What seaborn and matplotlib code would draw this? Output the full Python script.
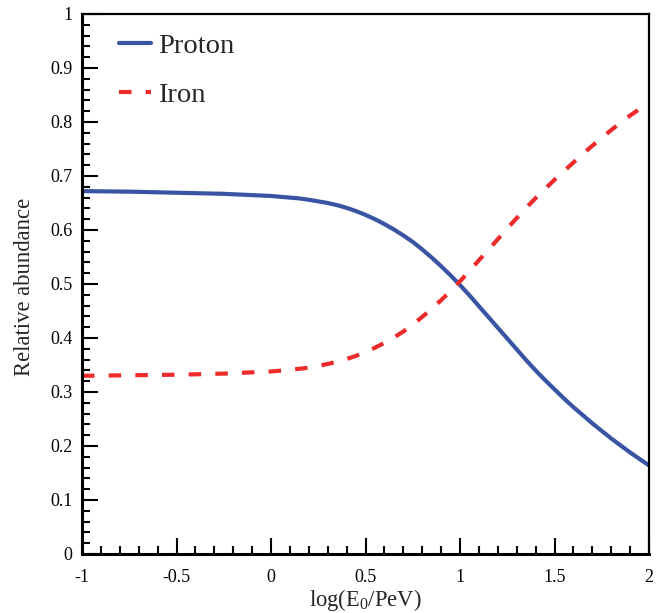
import matplotlib
matplotlib.use("Agg")
import matplotlib.pyplot as plt
import seaborn as sns
import pandas as pd
from matplotlib.ticker import MultipleLocator, FormatStrFormatter

log_e = [-1.0, -0.75, -0.5, -0.25, 0.0,
         0.1, 0.15, 0.2, 0.25, 0.3, 0.35, 0.4, 0.45, 0.5, 0.55,
         0.6, 0.65, 0.7, 0.75, 0.8, 0.85, 0.9, 0.95, 1.0, 1.05,
         1.1, 1.15, 1.2, 1.25, 1.3, 1.35, 1.4, 1.45, 1.5, 1.55,
         1.6, 1.65, 1.7, 1.75, 1.8, 1.85, 1.9, 1.95, 2.0]
proton = [0.672, 0.671, 0.669, 0.667, 0.663,
          0.660, 0.6585, 0.656, 0.653, 0.650, 0.646, 0.641, 0.635, 0.628, 0.620,
          0.611, 0.601, 0.590, 0.578, 0.564, 0.549, 0.533, 0.516, 0.498, 0.479,
          0.459, 0.439, 0.419, 0.399, 0.379, 0.359, 0.340, 0.322, 0.305, 0.288,
          0.272, 0.257, 0.242, 0.228, 0.214, 0.201, 0.188, 0.176, 0.164]
iron = [0.330, 0.331, 0.332, 0.334, 0.338,
        0.341, 0.343, 0.345, 0.348, 0.352, 0.356, 0.361, 0.367, 0.374, 0.382,
        0.391, 0.401, 0.412, 0.425, 0.439, 0.454, 0.470, 0.487, 0.505, 0.524,
        0.544, 0.563, 0.583, 0.603, 0.622, 0.641, 0.659, 0.676, 0.693, 0.709,
        0.725, 0.741, 0.756, 0.771, 0.785, 0.799, 0.812, 0.824, 0.836]
series_names = ["Proton", "Iron"]
x_label = "log(E$_0$/PeV)"
y_label = "Relative abundance"

df = pd.concat([
    pd.DataFrame({"x": log_e, "y": proton, "species": series_names[0]}),
    pd.DataFrame({"x": log_e, "y": iron, "species": series_names[1]}),
])

sns.set_style("ticks")
plt.rcParams["font.family"] = ["Liberation Serif", "DejaVu Serif"]
plt.rcParams["mathtext.fontset"] = "custom"
plt.rcParams["mathtext.rm"] = "Liberation Serif"
plt.rcParams["mathtext.it"] = "Liberation Serif:italic"
plt.rcParams["axes.unicode_minus"] = False

fig = plt.figure(figsize=(6.67, 6.13), dpi=100)
ax = fig.add_axes([82 / 667, 59 / 613, 567 / 667, 540 / 613])

colors = {"Proton": "#3a54a4", "Iron": "#ee2a2a"}
sns.lineplot(data=df, x="x", y="y", hue="species", style="species",
             palette=colors, dashes={"Proton": "", "Iron": (3, 3.4)},
             linewidth=3, ax=ax, sort=False)

ax.set_xlim(-1, 2)
ax.set_ylim(0, 1)
ax.xaxis.set_major_locator(MultipleLocator(0.5))
ax.xaxis.set_minor_locator(MultipleLocator(0.1))
ax.yaxis.set_major_locator(MultipleLocator(0.1))
ax.yaxis.set_minor_locator(MultipleLocator(0.02))
ax.xaxis.set_major_formatter(FormatStrFormatter("%g"))
ax.yaxis.set_major_formatter(FormatStrFormatter("%g"))

ax.tick_params(axis="both", which="both", bottom=True, left=True,
               top=False, right=False, direction="in", color="black")
ax.tick_params(axis="both", which="major", length=11.5, width=1.5,
               labelsize=13, labelcolor="black")
ax.tick_params(axis="both", which="minor", length=6, width=1.5)
ax.tick_params(axis="x", which="major", pad=11)
ax.tick_params(axis="y", which="major", pad=7)

for side in ["left", "bottom"]:
    ax.spines[side].set_linewidth(2.2)
for side in ["top", "right"]:
    ax.spines[side].set_linewidth(1.6)
for s in ax.spines.values():
    s.set_color("black")
    s.set_visible(True)

ax.set_xlabel(x_label, fontsize=16.3)
ax.set_ylabel(y_label, fontsize=16.3)
ax.xaxis.set_label_coords(0.5, -0.061)
ax.yaxis.set_label_coords(-0.083, 0.495)

handles, labels = ax.get_legend_handles_labels()
leg = ax.legend(handles=handles, labels=labels, loc="upper left",
                bbox_to_anchor=(0.065, 0.964), frameon=False, fontsize=20.5,
                handlelength=1.12, handletextpad=0.25, labelspacing=0.8,
                borderpad=0, borderaxespad=0)
for line in leg.get_lines():
    line.set_linewidth(3)

fig.savefig("out.png", dpi=100)
